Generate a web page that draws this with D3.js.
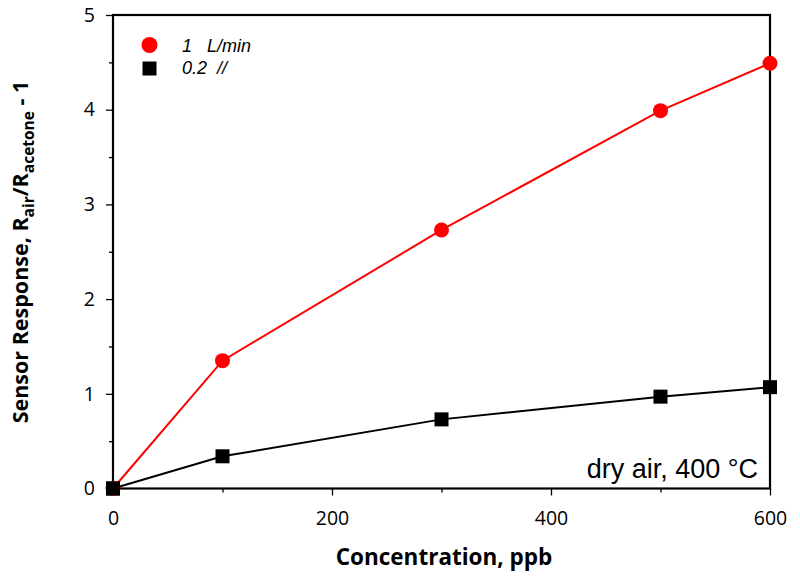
<!DOCTYPE html>
<html><head><meta charset="utf-8">
<script src="https://cdn.jsdelivr.net/npm/d3@7"></script>
<style>body{margin:0;background:#fff}</style>
</head><body>
<svg id="c" width="800" height="585"></svg>
<script>
const concentration = [0, 100, 300, 500, 600];
const flow1 = [0, 1.35, 2.73, 3.99, 4.49];
const flow02 = [0, 0.34, 0.73, 0.97, 1.07];
const xTicks = [0, 200, 400, 600];
const yTicks = [0, 1, 2, 3, 4, 5];
const seriesLabels = ["1   L/min", "0.2  //"];

const svg = d3.select("#c");
const L = 113, R = 770, T = 15, B = 488.5;
const x = d3.scaleLinear().domain([0, 600]).range([L, R]);
const y = d3.scaleLinear().domain([0, 5]).range([B, T]);
const tickFont = "Open Sans, Lato, sans-serif";

// minor ticks
svg.append("g").attr("transform", `translate(0,${B})`)
  .call(d3.axisBottom(x).tickValues([100,300,500]).tickSize(4).tickFormat(""))
  .call(g => g.select(".domain").remove());
svg.append("g").attr("transform", `translate(${L},0)`)
  .call(d3.axisLeft(y).tickValues([0.5,1.5,2.5,3.5,4.5]).tickSize(4).tickFormat(""))
  .call(g => g.select(".domain").remove());

const xa = svg.append("g").attr("transform", `translate(0,${B})`)
  .call(d3.axisBottom(x).tickValues(xTicks).tickFormat(d3.format("d")).tickSize(7).tickSizeOuter(0).tickPadding(16));
const ya = svg.append("g").attr("transform", `translate(${L},0)`)
  .call(d3.axisLeft(y).tickValues(yTicks).tickFormat(d3.format("d")).tickSize(7).tickSizeOuter(0).tickPadding(11));
[xa, ya].forEach(a => {
  a.selectAll("text").attr("font-family", tickFont).attr("font-size", 19.5).attr("fill", "#000");
  a.select(".domain").remove();
});
svg.selectAll("g line").attr("stroke", "#000").attr("stroke-width", 1.3);

// frame
svg.append("rect").attr("x", L).attr("y", T).attr("width", R - L).attr("height", B - T)
  .attr("fill", "none").attr("stroke", "#000").attr("stroke-width", 2.2);

const line = d3.line().x((d, i) => x(concentration[i])).y(d => y(d));
svg.append("path").datum(flow02).attr("d", line).attr("fill", "none").attr("stroke", "#000").attr("stroke-width", 2);
svg.append("path").datum(flow1).attr("d", line).attr("fill", "none").attr("stroke", "#ff0000").attr("stroke-width", 2);

svg.selectAll(".sq").data(flow02).enter().append("rect")
  .attr("x", (d, i) => x(concentration[i]) - 7).attr("y", d => y(d) - 7)
  .attr("width", 14).attr("height", 14).attr("fill", "#000");
svg.selectAll(".ci").data(flow1).enter().append("circle")
  .attr("cx", (d, i) => x(concentration[i])).attr("cy", d => y(d)).attr("r", 7.5).attr("fill", "#ff0000");
// black square at origin drawn over red circle
svg.append("rect").attr("x", x(concentration[0]) - 7).attr("y", y(flow02[0]) - 7).attr("width", 14).attr("height", 14).attr("fill", "#000");

// legend
svg.append("circle").attr("cx", 149.5).attr("cy", 45).attr("r", 8).attr("fill", "#ff0000");
svg.append("rect").attr("x", 142.5).attr("y", 61.5).attr("width", 14).attr("height", 14).attr("fill", "#000");
svg.append("text").attr("x", 182).attr("y", 51.5).attr("font-family", "Liberation Sans, Arial, sans-serif")
  .attr("font-style", "italic").attr("font-size", 18).style("white-space", "pre").text(seriesLabels[0]);
svg.append("text").attr("x", 182).attr("y", 74).attr("font-family", "Liberation Sans, Arial, sans-serif")
  .attr("font-style", "italic").attr("font-size", 18).style("white-space", "pre").text(seriesLabels[1]);

// annotation
svg.append("text").attr("x", 758).attr("y", 478).attr("text-anchor", "end")
  .attr("font-family", "Liberation Sans, Arial, sans-serif").attr("font-size", 27).text("dry air, 400 °C");

// axis titles
svg.append("text").attr("x", 444).attr("y", 565).attr("text-anchor", "middle")
  .attr("font-family", tickFont).attr("font-weight", "bold").attr("font-size", 22.5).text("Concentration, ppb");
const yt = svg.append("text").attr("transform", "translate(28,252) rotate(-90)").attr("text-anchor", "middle")
  .attr("font-family", tickFont).attr("font-weight", "bold").attr("font-size", 21.5);
yt.append("tspan").text("Sensor Response, R");
yt.append("tspan").attr("dy", 6).attr("font-size", 15.5).text("air");
yt.append("tspan").attr("dy", -6).text("/R");
yt.append("tspan").attr("dy", 6).attr("font-size", 15.5).text("acetone");
yt.append("tspan").attr("dy", -6).text(" - 1");
</script>
</body></html>
